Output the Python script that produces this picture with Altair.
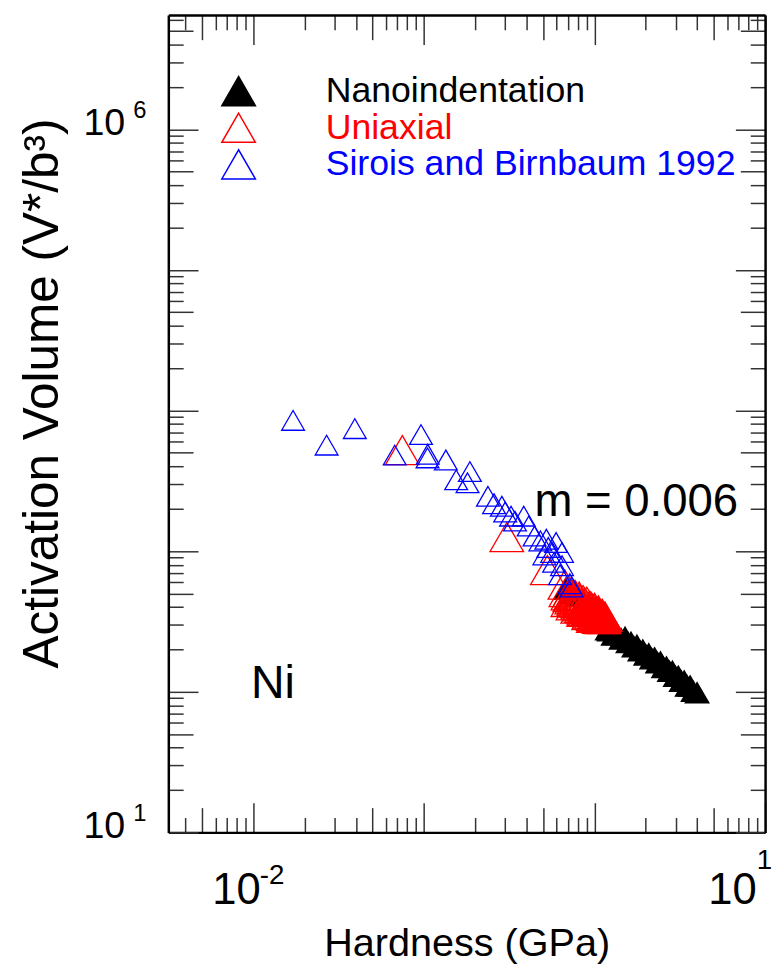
import altair as alt
import pandas as pd

# ---------------- data ----------------
# Nanoindentation (black, filled triangles)
nano_hardness = [0.680, 0.736, 0.797, 0.864, 0.936, 1.000, 1.055, 1.098, 1.142, 1.189,
                 1.221, 1.288, 1.358, 1.432, 1.511, 1.572, 1.636, 1.703, 1.773, 1.845,
                 1.920, 1.998, 2.080, 2.164, 2.252, 2.344, 2.439, 2.539, 2.642, 2.750,
                 2.862, 2.979, 3.100, 3.226, 3.357, 3.494, 3.636, 3.784, 3.993]
nano_volume = [540, 500, 478, 430, 414, 372, 358, 326, 310, 276,
               272, 254, 256, 238, 244, 224, 225, 209, 214, 196,
               198, 183, 186, 172, 174, 161, 163, 149, 150, 140,
               140, 129, 129, 119, 119, 110, 110, 101, 98.4]

# Uniaxial (red, open triangles)
uni_hardness = [0.0748, 0.3062, 0.5294, 0.6709, 0.736,
                0.680, 0.698, 0.717, 0.736, 0.756, 0.777, 0.797, 0.818, 0.840, 0.863,
                0.886, 0.910, 0.934, 0.958, 0.984, 1.011, 1.038, 1.066, 1.095, 1.141,
                0.717, 0.764, 0.818, 0.877, 0.934, 0.995, 1.049, 1.106, 1.153,
                0.698, 0.748, 0.797, 0.863, 0.925, 0.984,
                0.7459, 0.7590, 0.7722, 0.7857, 0.7994, 0.8134, 0.8276, 0.8421, 0.8568, 0.8718,
                0.8870, 0.9026, 0.9183, 0.9344, 0.9507, 0.9673, 0.9841, 1.0013, 1.0188, 1.0366,
                1.0547, 1.0731, 1.0918, 1.1109, 1.1303, 1.1501]
uni_volume = [5224, 1259, 733, 578, 490,
              511.6, 484.6, 471.7, 454.3, 439.8, 430.4, 416.6, 405.5, 394.7, 386.3,
              376.0, 369.8, 360.0, 354.2, 346.7, 339.3, 335.6, 330.3, 328.5, 328.5,
              511.6, 484.6, 459.2, 430.4, 407.7, 386.3, 369.8, 354.2, 341.1,
              435.1, 412.1, 390.4, 369.8, 350.4, 335.6,
              485.2, 455.5, 487.5, 457.7, 430.4, 475.2, 446.1, 426.2, 448.3, 407.3,
              422.1, 436.7, 397.5, 379.3, 405.3, 393.7, 369.5, 394.9, 371.3, 354.3,
              379.3, 361.9, 345.1, 357.7, 335.8, 341.8]

# Sirois and Birnbaum 1992 (blue, open triangles)
sb_hardness = [0.01712, 0.02692, 0.03939, 0.0675, 0.0962, 0.1054, 0.1051, 0.1346, 0.1547, 0.1862,
               0.1803, 0.2375, 0.2579, 0.2866, 0.2998, 0.3243, 0.342, 0.385, 0.4115, 0.4457,
               0.4821, 0.5223, 0.5362, 0.5649, 0.5957, 0.6453, 0.5085, 0.5801, 0.6453, 0.6285,
               0.7172, 0.7362]
sb_volume = [8503, 5670, 7430, 4819, 6743, 4885, 4604, 4446, 3213, 3678,
             3062, 2454, 2173, 2085, 1897, 1773, 1635, 1773, 1507, 1282,
             1182, 1215, 1062, 979, 1152, 979, 940, 832, 788, 679,
             586, 555]

series_names = ["Nanoindentation", "Uniaxial", "Sirois and Birnbaum 1992"]
series_colors = ["black", "red", "blue"]
series_fills = ["black", "transparent", "transparent"]

x_domain = [0.00318, 10]
y_domain = [10, 6.5e6]
x_tick_values = [0.004, 0.005, 0.006, 0.007, 0.008, 0.009,
                 0.01, 0.02, 0.03, 0.04, 0.05, 0.06, 0.07, 0.08, 0.09,
                 0.1, 0.2, 0.3, 0.4, 0.5, 0.6, 0.7, 0.8, 0.9,
                 1, 2, 3, 4, 5, 6, 7, 8, 9, 10]
y_tick_values = [10, 20, 30, 40, 50, 60, 70, 80, 90,
                 100, 200, 300, 400, 500, 600, 700, 800, 900,
                 1000, 2000, 3000, 4000, 5000, 6000, 7000, 8000, 9000,
                 10000, 20000, 30000, 40000, 50000, 60000, 70000, 80000, 90000,
                 100000, 200000, 300000, 400000, 500000, 600000, 700000, 800000, 900000,
                 1000000, 2000000, 3000000, 4000000, 5000000, 6000000]
x_label_values = [0.01, 10]
x_label_exponents = ["-2", "1"]
y_label_values = [10, 1000000]
y_label_exponents = ["1", "6"]

slope_text = ["m = 0.006"]
slope_x = [0.445]
slope_y = [1773]
metal_text = ["Ni"]
metal_x = [0.0097]
metal_y = [89.7]

# ---------------- tables ----------------
def series_df(h, v, name):
    return pd.DataFrame({"hardness": h, "volume": v, "series": name})

df_nano = series_df(nano_hardness, nano_volume, series_names[0])
df_uni = series_df(uni_hardness, uni_volume, series_names[1])
df_sb = series_df(sb_hardness, sb_volume, series_names[2])
df_slope = pd.DataFrame({"hardness": slope_x, "volume": slope_y, "label": slope_text})
df_metal = pd.DataFrame({"hardness": metal_x, "volume": metal_y, "label": metal_text})

# ---------------- styling ----------------
FONT = "Liberation Sans, Arial, Helvetica, sans-serif"
W, H = 603, 826

MAJOR = "abs(log(datum.value)/LN10 - round(log(datum.value)/LN10)) < 0.01"
MEDIUM = "abs(log(datum.value/5)/LN10 - round(log(datum.value/5)/LN10)) < 0.01"
tick_size = {"condition": [{"test": MAJOR, "value": 30}, {"test": MEDIUM, "value": 25}], "value": 15}


def expo_expr(values, exps):
    parts = [f"datum.value == {v} ? '{e}' : " for v, e in zip(values, exps)]
    return "".join(parts) + "''"


def tick_axis(orient, offset, values):
    return alt.Axis(orient=orient, offset=offset, values=values, labels=False,
                    domain=True, domainColor="black", domainWidth=2.5,
                    grid=False, title=None, ticks=True, tickSize=tick_size,
                    tickColor="#333333", tickWidth=1.5)


xs = alt.Scale(type="log", domain=x_domain, nice=False)
ys = alt.Scale(type="log", domain=y_domain, nice=False)

legend = alt.Legend(
    orient="none", legendX=53, legendY=59, title=None, padding=0,
    labelFont=FONT, labelFontSize=36, labelLimit=0, labelOffset=70,
    labelColor={"expr": "datum.value == 'Uniaxial' ? 'red' : datum.value == 'Nanoindentation' ? 'black' : 'blue'"},
    symbolType="triangle-up", symbolSize=1150, symbolStrokeWidth=1.5, rowPadding=1,
)

stroke_enc = alt.Stroke("series:N", scale=alt.Scale(domain=series_names, range=series_colors), legend=legend)
fill_enc = alt.Fill("series:N", scale=alt.Scale(domain=series_names, range=series_fills), legend=legend)

# axis sets (one per layer)
ax_x_bottom_ticks = tick_axis("top", -H, x_tick_values)
ax_y_left_ticks = tick_axis("right", -W, y_tick_values)
ax_x_top_ticks = tick_axis("bottom", -H, x_tick_values)
ax_y_right_ticks = tick_axis("left", -W, y_tick_values)

ax_x_labels = alt.Axis(
    orient="bottom", values=x_label_values, labelExpr="'10'", ticks=False, tickSize=0, domain=False,
    grid=False, labelFont=FONT, labelFontSize=44, labelColor="black", labelAlign="right",
    labelBaseline="alphabetic", labelPadding=72, labelFlush=False,
    labelOffset={"condition": {"test": "datum.value > 1", "value": -9}, "value": 7},
    title="Hardness (GPa)", titleFont=FONT, titleFontSize=40, titleFontWeight="normal",
    titleColor="black", titleX=W / 2, titleY=124, titleBaseline="alphabetic", titleAlign="center",
)
ax_y_labels = alt.Axis(
    orient="left", values=y_label_values, labelExpr="'10'", ticks=False, tickSize=0, domain=False,
    grid=False, labelFont=FONT, labelFontSize=38, labelColor="black", labelAlign="right",
    labelBaseline="middle", labelPadding=44, labelOffset=-6, labelFlush=False,
    title="Activation Volume (V*/b³)", titleFont=FONT, titleFontSize=50, titleFontWeight="normal",
    titleColor="black", titleX=-112, titleY=382, titleAngle=270, titleBaseline="alphabetic",
    titleAlign="center",
)
ax_x_expo = alt.Axis(
    orient="bottom", values=x_label_values, labelExpr=expo_expr(x_label_values, x_label_exponents),
    ticks=False, tickSize=0, domain=False, grid=False, labelFont=FONT, labelFontSize=28,
    labelColor="black", labelAlign="left", labelBaseline="alphabetic",
    labelPadding={"condition": {"test": "datum.value > 1", "value": 37}, "value": 52},
    labelFlush=False, labelOffset={"condition": {"test": "datum.value > 1", "value": -9}, "value": 6},
    title=None,
)
ax_y_expo = alt.Axis(
    orient="left", values=y_label_values, labelExpr=expo_expr(y_label_values, y_label_exponents),
    ticks=False, tickSize=0, domain=False, grid=False, labelFont=FONT, labelFontSize=24,
    labelColor="black", labelAlign="left", labelBaseline="middle", labelPadding=36,
    labelOffset=-19, labelFlush=False, title=None,
)


def points(df, size, xaxis, yaxis):
    return alt.Chart(df).mark_point(shape="triangle-up", size=size, opacity=1, strokeWidth=1.3).encode(
        x=alt.X("hardness:Q", scale=xs, axis=xaxis),
        y=alt.Y("volume:Q", scale=ys, axis=yaxis),
        stroke=stroke_enc,
        fill=fill_enc,
    )


def label_layer(df, size, xaxis, yaxis):
    return alt.Chart(df).mark_text(
        align="left", baseline="alphabetic", fontSize=size, font=FONT, color="black"
    ).encode(
        x=alt.X("hardness:Q", scale=xs, axis=xaxis),
        y=alt.Y("volume:Q", scale=ys, axis=yaxis),
        text="label:N",
    )


black = points(df_nano, 570, ax_x_bottom_ticks, ax_y_left_ticks)
red = points(df_uni, 1150, ax_x_top_ticks, ax_y_right_ticks)
blue = points(df_sb, 530, ax_x_labels, ax_y_labels)
slope_label = label_layer(df_slope, 46, ax_x_expo, ax_y_expo)
metal_label = label_layer(
    df_metal, 47,
    alt.Axis(labels=False, ticks=False, domain=False, grid=False, title=None, orient="bottom"),
    alt.Axis(labels=False, ticks=False, domain=False, grid=False, title=None, orient="left"),
)

chart = (
    alt.layer(black, red, blue, slope_label, metal_label)
    .resolve_axis(x="independent", y="independent")
    .properties(
        width=W, height=H,
        padding={"left": 162, "top": 2, "right": 9, "bottom": 128},
        autosize=alt.AutoSizeParams(type="none"),
    )
    .configure_view(strokeWidth=0)
    .configure(font=FONT)
)

chart.save("out.html", embed_options={"renderer": "svg", "actions": False})
